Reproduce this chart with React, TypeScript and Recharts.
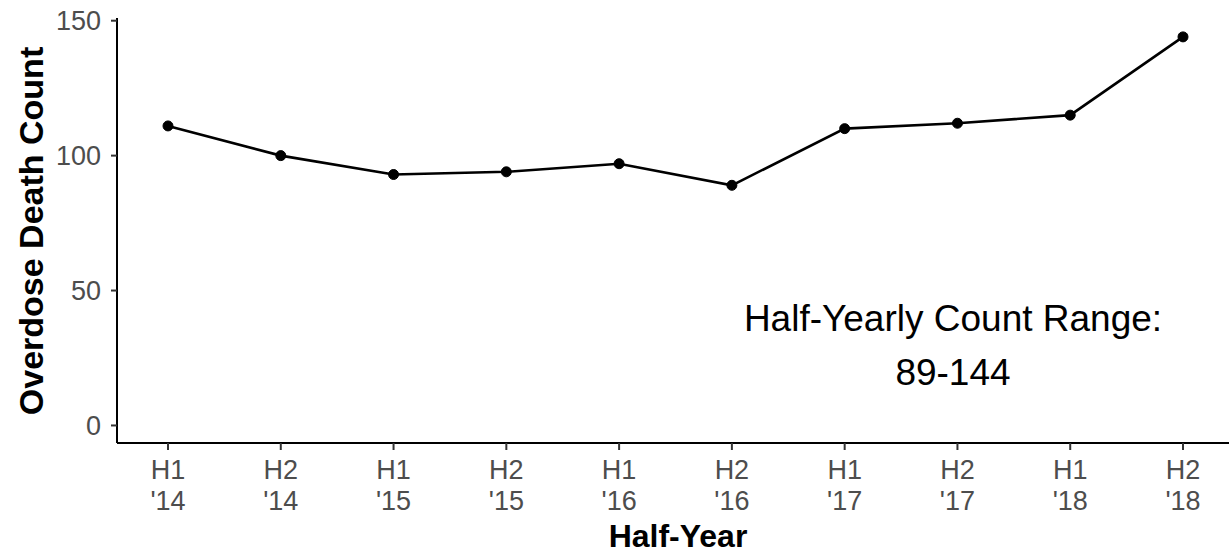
import React from "react";
import { LineChart, Line, XAxis, YAxis } from "recharts";

const halves = ["H1", "H2", "H1", "H2", "H1", "H2", "H1", "H2", "H1", "H2"];
const years = ["'14", "'14", "'15", "'15", "'16", "'16", "'17", "'17", "'18", "'18"];
const deaths = [111, 100, 93, 94, 97, 89, 110, 112, 115, 144];
const yTicks = [0, 50, 100, 150];

const data = halves.map((h, i) => ({
  period: `${h} ${years[i]}`,
  half: h,
  year: years[i],
  deaths: deaths[i],
}));

const FONT = "'Liberation Sans', Arial, sans-serif";
const TICK_GREY = "#4d4d4d";

function HalfYearTick(props: any) {
  const { x, y, index } = props;
  return (
    <text x={x} y={y} textAnchor="middle" fill={TICK_GREY} fontSize={27} fontFamily={FONT}>
      <tspan x={x} dy={27}>{halves[index]}</tspan>
      <tspan x={x} dy={31}>{years[index]}</tspan>
    </text>
  );
}

export default function App() {
  return (
    <div style={{ position: "absolute", left: 0, top: 0, width: 1229, height: 554, background: "#fff" }}>
      <LineChart
        width={1229}
        height={554}
        data={data}
        margin={{ top: 18, right: 0, bottom: 41, left: 47 }}
      >
        <XAxis
          dataKey="period"
          interval={0}
          height={70}
          padding={{ left: 51, right: 46 }}
          axisLine={{ stroke: "#000", strokeWidth: 2 }}
          tickLine={{ stroke: "#333", strokeWidth: 2 }}
          tickSize={7}
          tick={<HalfYearTick />}
        />
        <YAxis
          width={70}
          domain={[-6.5, 151]}
          ticks={yTicks}
          allowDataOverflow
          axisLine={{ stroke: "#000", strokeWidth: 2 }}
          tickLine={{ stroke: "#333", strokeWidth: 2 }}
          tickSize={6}
          tickMargin={10}
          tick={{ fill: TICK_GREY, fontSize: 27, fontFamily: FONT }}
        />
        <Line
          type="linear"
          dataKey="deaths"
          stroke="#000"
          strokeWidth={2.6}
          dot={{ r: 5, fill: "#000", stroke: "#000", strokeWidth: 1 }}
          activeDot={false}
          isAnimationActive={false}
        />
      </LineChart>
      <svg
        width={1229}
        height={554}
        style={{ position: "absolute", left: 0, top: 0, pointerEvents: "none" }}
      >
        <text
          x={0}
          y={0}
          transform="translate(43 231) rotate(-90)"
          textAnchor="middle"
          fontSize={34}
          fontWeight="bold"
          fontFamily={FONT}
          fill="#000"
        >
          Overdose Death Count
        </text>
        <text x={678} y={547} textAnchor="middle" fontSize={32} fontWeight="bold" fontFamily={FONT} fill="#000">
          Half-Year
        </text>
        <text x={953} y={331} textAnchor="middle" fontSize={37} fontFamily={FONT} fill="#000">
          Half-Yearly Count Range:
        </text>
        <text x={953} y={385} textAnchor="middle" fontSize={37} fontFamily={FONT} fill="#000">
          89-144
        </text>
      </svg>
    </div>
  );
}
